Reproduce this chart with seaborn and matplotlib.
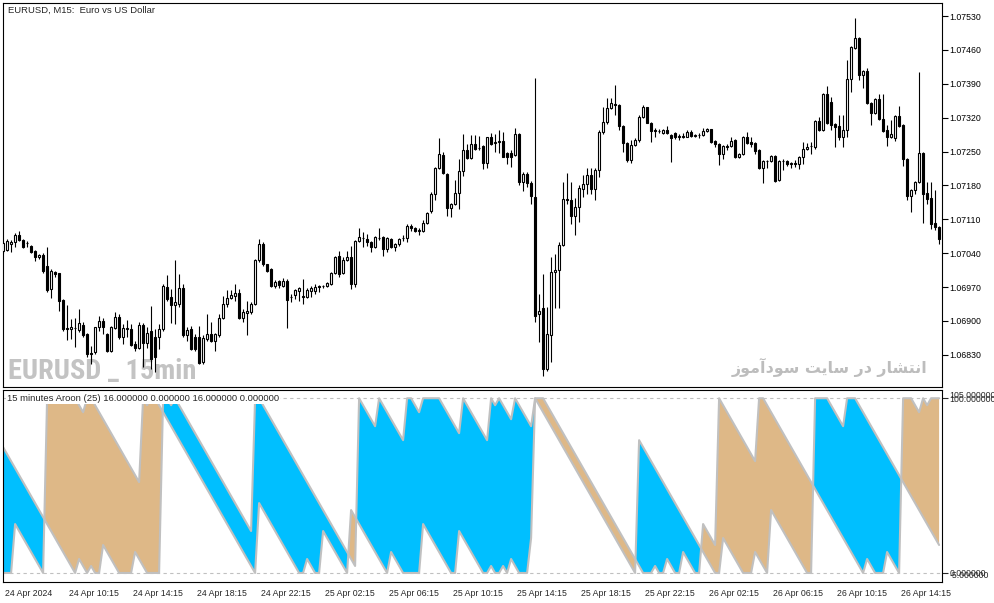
import numpy as np
import pandas as pd
import matplotlib
matplotlib.use("Agg")
import matplotlib.pyplot as plt
import matplotlib.transforms as mtransforms
import seaborn as sns

# EURUSD M15, velas a partir de 24 Apr 06:15 -- preços em pontos (x 100000)
opens = [
    107045, 107047, 107058, 107063, 107077, 107068, 107060, 107054, 107045, 107033,
    107037, 107014, 106966, 107001, 106999, 106943, 106885, 106883, 106886, 106881,
    106892, 106873, 106833, 106835, 106887, 106899, 106873, 106838, 106885, 106909,
    106866, 106883, 106883, 106852, 106845, 106892, 106854, 106880, 106866, 106866,
    106883, 106971, 106949, 106932, 106936, 106968, 106870, 106883, 106866, 106867,
    106816, 106863, 106872, 106859, 106870, 106906, 106934, 106948, 106952, 106958,
    106907, 106916, 106918, 106934, 107025, 107059, 107017, 107008, 106973, 106982,
    106973, 106983, 106950, 106954, 106961, 106951, 106949, 106961, 106961, 106972,
    106972, 106972, 106977, 106999, 107035, 106999, 107025, 107033, 106977, 107066,
    107071, 107070, 107064, 107053, 107071, 107073, 107049, 107070, 107053, 107058,
    107071, 107072, 107096, 107091, 107086, 107086, 107102, 107128, 107163, 107215,
    107242, 107204, 107134, 107141, 107165, 107209, 107254, 107237, 107266, 107258,
    107261, 107227, 107279, 107268, 107269, 107272, 107246, 107246, 107242, 107287,
    107187, 107203, 107186, 107156, 106915, 106927, 106801, 106870, 107002, 107006,
    107057, 107151, 107149, 107116, 107135, 107173, 107182, 107202, 107173, 107212,
    107291, 107311, 107339, 107349, 107347, 107302, 107268, 107233, 107263, 107273,
    107322, 107341, 107309, 107294, 107293, 107288, 107295, 107284, 107288, 107281,
    107282, 107280, 107290, 107283, 107284, 107285, 107292, 107297, 107271, 107266,
    107244, 107261, 107261, 107273, 107239, 107244, 107280, 107270, 107268, 107254,
    107215, 107230, 107230, 107240, 107192, 107230, 107230, 107225, 107226, 107224,
    107239, 107256, 107261, 107259, 107313, 107294, 107368, 107353, 107306, 107302,
    107279, 107294, 107399, 107464, 107484, 107408, 107417, 107350, 107330, 107359,
    107318, 107294, 107280, 107277, 107324, 107305, 107235, 107158, 107171, 107187,
    107247, 107164, 107154, 107102, 107094,
]
highs = [
    107066, 107070, 107068, 107081, 107086, 107070, 107066, 107056, 107046, 107039,
    107040, 107052, 107008, 107004, 107000, 106945, 106932, 106904, 106907, 106925,
    106897, 106876, 106849, 106888, 106911, 106907, 106876, 106890, 106918, 106914,
    106894, 106901, 106894, 106859, 106897, 106895, 106887, 106930, 106883, 106894,
    106976, 106994, 106966, 107025, 106997, 106976, 106887, 106890, 106873, 106890,
    106870, 106914, 106897, 106876, 106914, 106952, 106963, 106963, 106976, 106966,
    106925, 106942, 106939, 107028, 107070, 107063, 107018, 107010, 106985, 106985,
    106989, 106987, 106956, 106966, 106971, 106987, 106968, 106973, 106976, 106975,
    106975, 106980, 107001, 107034, 107045, 107032, 107045, 107054, 107068, 107091,
    107083, 107080, 107066, 107075, 107091, 107075, 107074, 107072, 107060, 107072,
    107077, 107101, 107101, 107095, 107091, 107108, 107125, 107166, 107218, 107277,
    107248, 107206, 107143, 107191, 107235, 107287, 107266, 107284, 107284, 107282,
    107263, 107281, 107289, 107287, 107294, 107291, 107248, 107253, 107298, 107289,
    107208, 107208, 107190, 107401, 106956, 106997, 106928, 107032, 107039, 107063,
    107187, 107206, 107187, 107153, 107180, 107201, 107215, 107215, 107215, 107294,
    107342, 107360, 107360, 107387, 107349, 107304, 107270, 107273, 107277, 107325,
    107346, 107343, 107311, 107298, 107296, 107297, 107303, 107287, 107290, 107287,
    107288, 107294, 107294, 107287, 107288, 107298, 107299, 107297, 107273, 107268,
    107263, 107265, 107280, 107275, 107246, 107282, 107290, 107281, 107270, 107256,
    107232, 107233, 107242, 107242, 107232, 107234, 107232, 107228, 107232, 107241,
    107270, 107268, 107270, 107315, 107322, 107370, 107385, 107363, 107308, 107325,
    107325, 107439, 107468, 107525, 107486, 107418, 107422, 107352, 107361, 107368,
    107368, 107304, 107316, 107325, 107344, 107307, 107237, 107173, 107189, 107415,
    107249, 107187, 107187, 107170, 107096,
]
lows = [
    107040, 107045, 107042, 107052, 107066, 107050, 107052, 107040, 107023, 107028,
    107000, 106959, 106948, 106990, 106921, 106880, 106861, 106863, 106847, 106878,
    106866, 106825, 106811, 106832, 106880, 106873, 106835, 106835, 106883, 106863,
    106852, 106866, 106849, 106838, 106842, 106805, 106845, 106800, 106795, 106842,
    106880, 106942, 106895, 106894, 106928, 106867, 106859, 106840, 106838, 106811,
    106812, 106859, 106856, 106838, 106866, 106904, 106928, 106946, 106942, 106904,
    106897, 106870, 106914, 106932, 107021, 107014, 107001, 106971, 106968, 106968,
    106971, 106885, 106939, 106945, 106942, 106935, 106947, 106950, 106955, 106960,
    106968, 106970, 106975, 106997, 106990, 106996, 107023, 106965, 106970, 107063,
    107053, 107054, 107042, 107051, 107068, 107035, 107042, 107050, 107044, 107055,
    107066, 107063, 107086, 107084, 107077, 107084, 107101, 107122, 107149, 107213,
    107204, 107116, 107115, 107139, 107132, 107200, 107235, 107235, 107253, 107253,
    107213, 107215, 107264, 107249, 107247, 107238, 107225, 107218, 107240, 107180,
    107168, 107177, 107142, 106897, 106856, 106787, 106797, 106815, 106927, 106927,
    107054, 107142, 107101, 107077, 107104, 107157, 107163, 107163, 107149, 107197,
    107287, 107307, 107337, 107325, 107294, 107249, 107228, 107226, 107261, 107270,
    107320, 107308, 107270, 107280, 107289, 107287, 107287, 107228, 107275, 107273,
    107277, 107279, 107279, 107280, 107277, 107283, 107290, 107268, 107259, 107222,
    107235, 107254, 107259, 107237, 107237, 107242, 107266, 107259, 107245, 107213,
    107185, 107215, 107228, 107187, 107190, 107211, 107221, 107215, 107218, 107213,
    107225, 107254, 107244, 107256, 107292, 107293, 107306, 107294, 107259, 107273,
    107259, 107281, 107373, 107462, 107397, 107382, 107348, 107304, 107328, 107316,
    107290, 107261, 107278, 107272, 107300, 107221, 107149, 107125, 107163, 107185,
    107102, 107141, 107090, 107088, 107059,
]
closes = [
    107060, 107066, 107063, 107077, 107068, 107052, 107061, 107042, 107032, 107037,
    107004, 106963, 107003, 106997, 106942, 106883, 106884, 106888, 106885, 106895,
    106870, 106832, 106832, 106887, 106899, 106888, 106838, 106887, 106909, 106866,
    106885, 106885, 106851, 106844, 106892, 106854, 106876, 106821, 106825, 106883,
    106973, 106945, 106932, 106939, 106968, 106870, 106881, 106842, 106842, 106814,
    106865, 106872, 106858, 106873, 106906, 106934, 106948, 106954, 106958, 106906,
    106918, 106920, 106934, 107025, 107059, 107017, 107004, 106973, 106980, 106975,
    106982, 106943, 106949, 106963, 106968, 106950, 106964, 106968, 106971, 106971,
    106973, 106978, 106999, 107032, 106997, 107025, 107033, 106977, 107066, 107073,
    107072, 107063, 107053, 107073, 107072, 107049, 107071, 107053, 107058, 107070,
    107072, 107097, 107091, 107086, 107087, 107102, 107122, 107163, 107215, 107244,
    107206, 107134, 107141, 107165, 107209, 107254, 107237, 107266, 107256, 107257,
    107227, 107279, 107266, 107269, 107272, 107239, 107239, 107239, 107287, 107187,
    107203, 107186, 107158, 106911, 106920, 106801, 106873, 107002, 107006, 107057,
    107151, 107149, 107116, 107135, 107175, 107182, 107202, 107173, 107212, 107291,
    107311, 107339, 107351, 107347, 107302, 107268, 107232, 107263, 107273, 107322,
    107341, 107309, 107293, 107293, 107292, 107295, 107288, 107277, 107280, 107282,
    107281, 107290, 107282, 107284, 107285, 107292, 107297, 107270, 107266, 107244,
    107261, 107260, 107272, 107239, 107244, 107280, 107268, 107265, 107252, 107215,
    107230, 107231, 107240, 107190, 107230, 107231, 107225, 107226, 107225, 107239,
    107256, 107259, 107262, 107313, 107294, 107368, 107308, 107304, 107301, 107279,
    107294, 107399, 107466, 107484, 107408, 107416, 107350, 107330, 107359, 107318,
    107292, 107280, 107286, 107324, 107302, 107235, 107158, 107171, 107187, 107247,
    107163, 107152, 107101, 107094, 107070,
]

aroon_up_head = [72, 68, 64, 60, 56, 52, 48, 44, 40, 36, 32, 28, 24, 20, 16, 12,
                 8, 4, 0, 8, 4, 0, 4, 0, 0]
aroon_down_head = [0, 0, 0, 28, 24, 20, 16, 12, 8, 4, 0, 100, 100, 100, 100, 100,
                   100, 100, 100, 96, 92, 100, 100, 96, 92]

time_labels = [
    "24 Apr 2024", "24 Apr 10:15", "24 Apr 14:15", "24 Apr 18:15", "24 Apr 22:15",
    "25 Apr 02:15", "25 Apr 06:15", "25 Apr 10:15", "25 Apr 14:15", "25 Apr 18:15",
    "25 Apr 22:15", "26 Apr 02:15", "26 Apr 06:15", "26 Apr 10:15", "26 Apr 14:15",
]
price_ticks = [1.06830, 1.06900, 1.06970, 1.07040, 1.07110, 1.07180,
               1.07250, 1.07320, 1.07390, 1.07460, 1.07530]
AROON_PERIOD = 25
BARS_PER_LABEL = 16

# escala de pixels do print original
W, H = 994, 603
AX_L, AX_R = 2.7, 941.7
TOP_T, TOP_B = 2.7, 387.0
BOT_T, BOT_B = 389.5, 581.7

df = pd.DataFrame({
    "bar": np.arange(len(closes)),
    "open": np.array(opens) / 1e5,
    "high": np.array(highs) / 1e5,
    "low": np.array(lows) / 1e5,
    "close": np.array(closes) / 1e5,
})


def aroon(values, period, pick, head):
    vals = np.asarray(values)
    out = np.empty(len(vals))
    for i in range(len(vals)):
        seg = vals[max(0, i - period):i + 1][::-1]  # empate -> barra mais recente
        out[i] = 100.0 * (period - pick(seg)) / period
    out[:len(head)] = head
    return out


df["aroon_up"] = aroon(df["high"], AROON_PERIOD, np.argmax, aroon_up_head)
df["aroon_down"] = aroon(df["low"], AROON_PERIOD, np.argmin, aroon_down_head)

sns.set_style("white")
plt.rcParams["font.family"] = ["Liberation Sans", "DejaVu Sans"]
plt.rcParams["axes.linewidth"] = 0.8

fig = plt.figure(figsize=(W / 100, H / 100), dpi=100)
ax1 = fig.add_axes([AX_L / W, 1 - TOP_B / H, (AX_R - AX_L) / W, (TOP_B - TOP_T) / H])
ax2 = fig.add_axes([AX_L / W, 1 - BOT_B / H, (AX_R - AX_L) / W, (BOT_B - BOT_T) / H])

xlim = (-0.1, -0.1 + (AX_R - AX_L) / 4.0)

# ---------------- velas ----------------
bull = df["close"] >= df["open"]
body_low = np.minimum(df["open"], df["close"])
body_h = (df["close"] - df["open"]).abs()
ax1.vlines(df["bar"], df["low"], df["high"], color="black", lw=0.8, zorder=3)
ax1.bar(df["bar"], body_h, bottom=body_low, width=0.6,
        color=np.where(bull, "white", "black"), edgecolor="black",
        linewidth=0.8, zorder=4)

ax1.set_xlim(*xlim)
ax1.set_ylim(1.067635, 1.075575)
ax1.set_xticks([])
ax1.yaxis.tick_right()
ax1.set_yticks(price_ticks)
ax1.set_yticklabels([f"{v:.5f}" for v in price_ticks])
ax1.tick_params(axis="y", direction="out", length=4, width=0.8, pad=1.5,
                labelsize=6.3, colors="black")

ax1.text(0.0057, 0.981, "EURUSD, M15:  Euro vs US Dollar", transform=ax1.transAxes,
         fontsize=6.8, va="center", ha="left", zorder=6)
wm_left = ax1.text(0.0056, 0.020, "EURUSD _ 15min", transform=ax1.transAxes,
                   fontsize=24, fontweight="heavy", fontstretch="extra-condensed",
                   color="#c3c3c3", va="baseline", ha="left",
                   family=["Roboto Condensed", "Open Sans Condensed",
                           "Noto Sans ExtraCondensed", "Noto Sans Condensed",
                           "Liberation Sans"], zorder=1)
# "انتشار در سایت سودآموز" em formas de apresentação, ordem visual
persian = ("\uFEAF\uFEEE\uFEE3\uFE81\uFEA9\uFEEE\uFEB3 \uFE96\uFEF3\uFE8E\uFEB3 "
           "\uFEAD\uFEA9 \uFEAD\uFE8E\uFEB8\uFE98\uFEE7\uFE8D")
wm_right = ax1.text(0.9844, 0.0364, persian, transform=ax1.transAxes, fontsize=13,
                    fontweight="bold", color="#bdbdbd", va="baseline", ha="right",
                    family=["DejaVu Sans"], zorder=1)

# ajusta as marcas d'água à largura que têm no print
fig.canvas.draw()
for txt, target in ((wm_left, 189.0), (wm_right, 195.0)):
    w = txt.get_window_extent().width
    txt.set_fontsize(txt.get_fontsize() * target / w)

# ---------------- Aroon ----------------
ax2.axhline(100, color="#c0c0c0", lw=0.8, ls=(0, (3, 3)), zorder=0)
ax2.axhline(0, color="#c0c0c0", lw=0.8, ls=(0, (3, 3)), zorder=0)
up_v, dn_v = df["aroon_up"].values, df["aroon_down"].values
ax2.fill_between(df["bar"], up_v, dn_v, where=up_v >= dn_v, interpolate=True,
                 color="#00bfff", lw=0, zorder=1)
ax2.fill_between(df["bar"], up_v, dn_v, where=dn_v > up_v, interpolate=True,
                 color="#deb887", lw=0, zorder=1)
sns.lineplot(data=df, x="bar", y="aroon_up", color="#c0c0c0", lw=1.5, ax=ax2,
             legend=False, zorder=2)
sns.lineplot(data=df, x="bar", y="aroon_down", color="#c0c0c0", lw=1.5, ax=ax2,
             legend=False, zorder=2)

ax2.set_xlim(*xlim)
ax2.set_ylim(-5, 105)
ax2.set_xlabel("")
ax2.set_ylabel("")
ax2.yaxis.tick_right()
ax2.set_yticks([0, 100])
ax2.set_yticklabels(["0.000000", "100.000000"])
ax2.tick_params(axis="y", direction="out", length=4, width=0.8, pad=1.5, labelsize=6.3)
ybt = ax2.get_yaxis_transform()
off = mtransforms.ScaledTranslation((4 + 1.5) / 72, 0, fig.dpi_scale_trans)
ax2.text(1.0, 101.6, "105.000000", transform=ybt + off, fontsize=6.3, va="center", ha="left")
ax2.text(1.0, -1.6, "-5.000000", transform=ybt + off, fontsize=6.3, va="center", ha="left")

tick_pos = np.arange(len(time_labels)) * BARS_PER_LABEL
ax2.set_xticks(tick_pos)
ax2.set_xticklabels(time_labels, ha="left")
ax2.tick_params(axis="x", direction="out", length=4, width=0.8, pad=1.5, labelsize=6.3)
shift = mtransforms.ScaledTranslation(1.5 / 100, 0, fig.dpi_scale_trans)
for lab in ax2.get_xticklabels():
    lab.set_transform(lab.get_transform() + shift)

ax2.text(0.0043, 0.9506,
         "15 minutes Aroon (25) 16.000000 0.000000 16.000000 0.000000",
         transform=ax2.transAxes, fontsize=6.8, va="center", ha="left", zorder=5,
         bbox=dict(facecolor="white", edgecolor="none", pad=0.5))

for ax in (ax1, ax2):
    for sp in ax.spines.values():
        sp.set_color("black")
        sp.set_linewidth(0.8)

fig.savefig("out.png", dpi=100, facecolor="white")
